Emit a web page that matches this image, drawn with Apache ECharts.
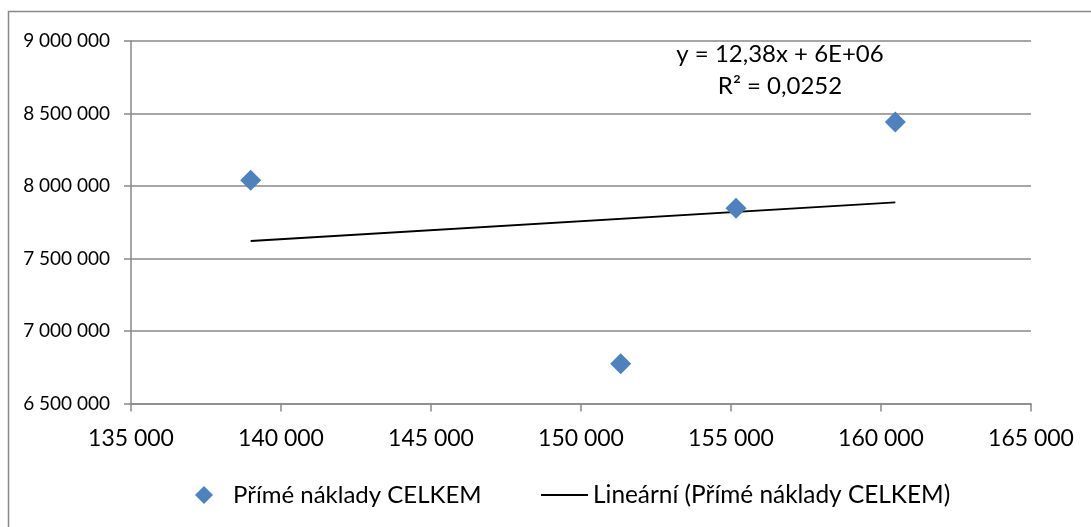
<!DOCTYPE html>
<html>
<head>
<meta charset="utf-8">
<script src="https://cdn.jsdelivr.net/npm/echarts@6/dist/echarts.min.js"></script>
<style>
  html, body { margin: 0; padding: 0; background: #ffffff; }
  #chart { width: 1091px; height: 527px; }
</style>
</head>
<body>
<div id="chart"></div>
<script>
// Přímé náklady CELKEM: x value vs. total direct costs
const xValues = [138990, 151323, 155167, 160477];
const yValues = [8040000, 6774000, 7846000, 8441000];

const seriesName = 'Přímé náklady CELKEM';
const trendName = 'Lineární (Přímé náklady CELKEM)';

const xTicks = [135000, 140000, 145000, 150000, 155000, 160000, 165000];
const yTicks = [6500000, 7000000, 7500000, 8000000, 8500000, 9000000];

// least-squares linear trend
const n = xValues.length;
const mx = xValues.reduce((s, v) => s + v, 0) / n;
const my = yValues.reduce((s, v) => s + v, 0) / n;
let sxy = 0, sxx = 0, syy = 0;
for (let i = 0; i < n; i++) {
  const dx = xValues[i] - mx, dy = yValues[i] - my;
  sxy += dx * dy; sxx += dx * dx; syy += dy * dy;
}
const slope = sxy / sxx;
const intercept = my - slope * mx;
const r2 = (sxy * sxy) / (sxx * syy);

const xMin = Math.min(...xValues), xMax = Math.max(...xValues);
const trendData = [[xMin, intercept + slope * xMin], [xMax, intercept + slope * xMax]];

function sci(v) {
  const e = Math.floor(Math.log10(Math.abs(v)));
  const m = Math.round(v / Math.pow(10, e));
  return m + 'E+' + String(e).padStart(2, '0');
}
const eqText = 'y = ' + slope.toFixed(2).replace('.', ',') + 'x + ' + sci(intercept);
const r2Text = 'R² = ' + r2.toFixed(4).replace('.', ',');

function spaced(v) {
  return String(Math.round(v)).replace(/\B(?=(\d{3})+(?!\d))/g, ' ');
}

const FONT = 'Lato';
const GRAY = '#898989';

const chart = echarts.init(document.getElementById('chart'), null, { renderer: 'canvas' });
chart.setOption({
  animation: false,
  backgroundColor: '#ffffff',
  textStyle: { fontFamily: FONT, color: '#000' },
  grid: { left: 131, right: 60, top: 41, bottom: 123.5, containLabel: false },
  xAxis: {
    type: 'value',
    min: xTicks[0], max: xTicks[xTicks.length - 1], interval: xTicks[1] - xTicks[0],
    axisLine: { show: true, lineStyle: { color: GRAY, width: 1.5 } },
    axisTick: { show: true, length: 8, lineStyle: { color: GRAY, width: 1.5 } },
    splitLine: { show: false },
    axisLabel: { fontFamily: FONT, fontSize: 23, color: '#000', margin: 24, formatter: spaced }
  },
  yAxis: {
    type: 'value',
    min: yTicks[0], max: yTicks[yTicks.length - 1], interval: yTicks[1] - yTicks[0],
    axisLine: { show: true, lineStyle: { color: GRAY, width: 1.5 } },
    axisTick: { show: true, length: 7, lineStyle: { color: GRAY, width: 1.5 } },
    splitLine: { show: true, lineStyle: { color: GRAY, width: 1.5 } },
    axisLabel: { fontFamily: FONT, fontSize: 19, color: '#000', margin: 21, formatter: spaced }
  },
  legend: [
    {
      data: [{ name: seriesName, icon: 'diamond' }],
      left: 190, top: 478,
      itemWidth: 18, itemHeight: 18,
      textStyle: { fontFamily: FONT, fontSize: 24, color: '#000', padding: [0, 0, 0, 15] }
    },
    {
      data: [{ name: trendName, icon: 'rect', itemStyle: { color: '#000' } }],
      left: 536, top: 476,
      itemWidth: 47, itemHeight: 2,
      textStyle: { fontFamily: FONT, fontSize: 24.4, color: '#000', lineHeight: 28 }
    }
  ],
  graphic: [
    {
      type: 'rect', silent: true,
      shape: { x: 8.5, y: 11.5, width: 1200, height: 600 },
      style: { fill: 'none', stroke: GRAY, lineWidth: 1.5 }
    },
    {
      type: 'text', silent: true,
      style: { text: eqText, x: 780, y: 54, textAlign: 'center', textVerticalAlign: 'middle',
               font: '24px ' + FONT, fill: '#000' }
    },
    {
      type: 'text', silent: true,
      style: { text: r2Text, x: 780, y: 86, textAlign: 'center', textVerticalAlign: 'middle',
               font: '24px ' + FONT, fill: '#000' }
    }
  ],
  series: [
    {
      name: seriesName,
      type: 'scatter',
      symbol: 'diamond',
      symbolSize: 21,
      itemStyle: { color: '#4F81BD', opacity: 1 },
      data: xValues.map((x, i) => [x, yValues[i]]),
      z: 3
    },
    {
      name: trendName,
      type: 'line',
      symbol: 'none',
      lineStyle: { color: '#000', width: 1.8 },
      itemStyle: { color: '#000' },
      data: trendData,
      z: 2
    }
  ]
});
</script>
</body>
</html>
